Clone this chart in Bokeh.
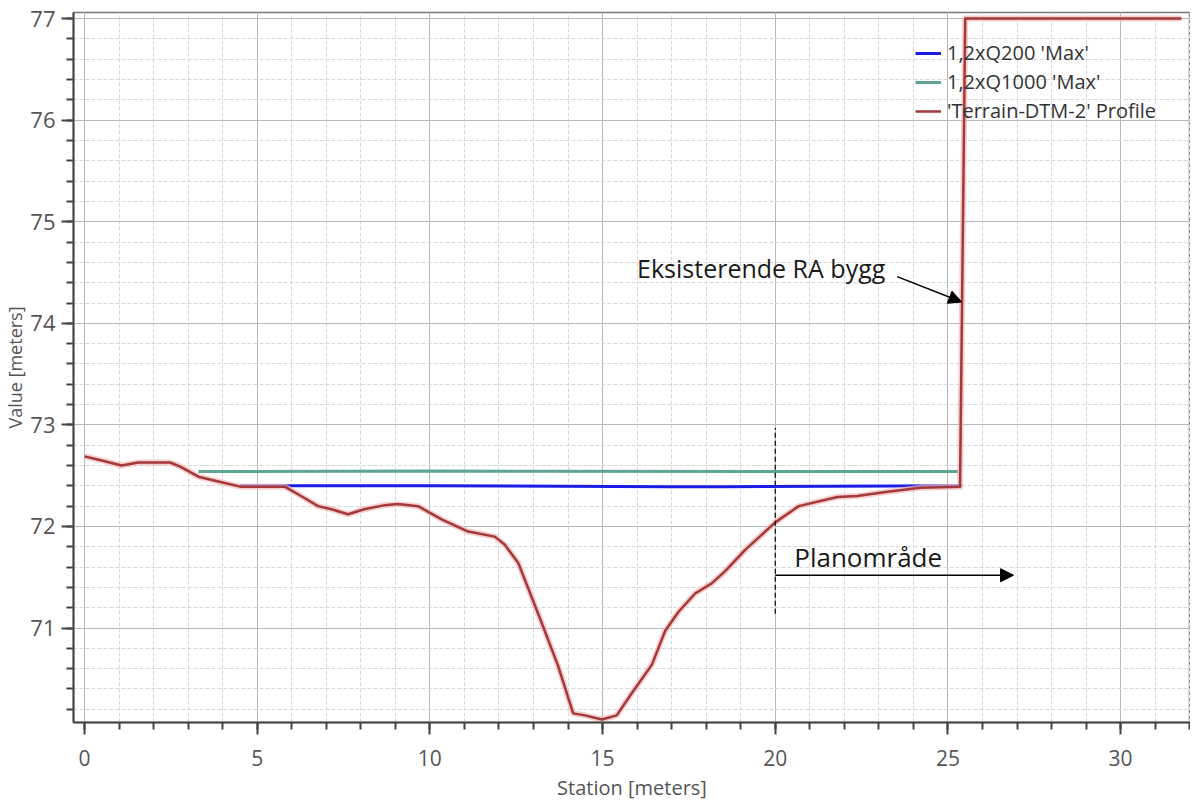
from bokeh.plotting import figure
from bokeh.models import (SingleIntervalTicker, Legend, LegendItem, Label, Arrow,
                          NormalHead, Range1d)
from bokeh.embed import file_html
from bokeh.resources import INLINE

# ---------------- data ----------------
terrain_x = [0.0, 0.5, 1.07, 1.56, 2.48, 2.77, 3.3, 3.78, 4.54, 4.83, 5.81, 6.27, 6.76,
             7.15, 7.63, 8.1, 8.7, 9.07, 9.66, 10.34, 11.11, 11.88, 12.17, 12.56, 13.24,
             13.72, 14.15, 14.49, 14.98, 15.41, 15.85, 16.43, 16.81, 17.2, 17.68, 18.16,
             18.55, 19.13, 20.0, 20.68, 21.8, 22.37, 23.2, 24.2, 25.35, 25.5, 31.76]
terrain_y = [72.69, 72.65, 72.60, 72.63, 72.63, 72.59, 72.49, 72.45, 72.39, 72.39, 72.39,
             72.30, 72.20, 72.17, 72.12, 72.17, 72.21, 72.22, 72.20, 72.07, 71.95, 71.90,
             71.82, 71.64, 71.05, 70.62, 70.16, 70.14, 70.10, 70.14, 70.36, 70.64, 70.97,
             71.16, 71.34, 71.44, 71.56, 71.77, 72.04, 72.20, 72.29, 72.30, 72.34, 72.38,
             72.39, 77.0, 77.0]

q200_x = [4.5, 10.0, 16.9, 18.55, 25.4]
q200_y = [72.40, 72.40, 72.392, 72.392, 72.40]

q1000_x = [3.3, 10.0, 20.0, 25.3]
q1000_y = [72.54, 72.545, 72.54, 72.54]

series_labels = ["1,2xQ200 'Max'", "1,2xQ1000 'Max'", "'Terrain-DTM-2' Profile"]

x_title = "Station [meters]"
y_title = "Value [meters]"

note_building = "Eksisterende RA bygg"
note_building_xy = (16.0, 74.54)
arrow_building = (23.53, 74.46, 25.4, 74.21)

note_plan = "Planområde"
note_plan_xy = (20.55, 71.70)
arrow_plan = (20.0, 71.52, 26.9, 71.52)
plan_line = (20.0, 71.14, 72.97)

# ---------------- figure ----------------
FONT = "Open Sans"
W, H = 1190, 803
BL, BR, BT, BB = 71, 0, 12, 78
x0 = -0.318
x1 = x0 + (W - BL - BR) / 34.6
p = figure(width=W, height=H, output_backend="svg", toolbar_location=None,
           x_range=Range1d(x0, x1), y_range=Range1d(70.07, 77.06))
p.min_border_left = BL
p.min_border_right = BR
p.min_border_top = BT
p.min_border_bottom = BB
p.background_fill_color = "white"
p.border_fill_color = "white"
p.outline_line_color = "#777777"
p.outline_line_width = 1.5

p.xaxis.ticker = SingleIntervalTicker(interval=5, num_minor_ticks=5)
p.yaxis.ticker = SingleIntervalTicker(interval=1, num_minor_ticks=5)

for ax in (p.xaxis[0], p.yaxis[0]):
    ax.axis_line_color = "#444444"
    ax.axis_line_width = 2
    ax.major_tick_line_color = "#444444"
    ax.major_tick_line_width = 2
    ax.minor_tick_line_color = "#444444"
    ax.minor_tick_line_width = 2
    ax.major_tick_out = 12
    ax.major_tick_in = 0
    ax.minor_tick_out = 7
    ax.minor_tick_in = 0
    ax.major_label_text_font = FONT
    ax.major_label_text_color = "#555555"
    ax.axis_label_text_font = FONT
    ax.axis_label_text_font_style = "normal"
    ax.axis_label_text_color = "#555555"

p.xaxis.major_label_text_font_size = "21px"
p.yaxis.major_label_text_font_size = "22px"
p.xaxis.axis_label = x_title
p.yaxis.axis_label = y_title
p.xaxis.axis_label_text_font_size = "20px"
p.yaxis.axis_label_text_font_size = "18px"
p.xaxis.major_label_standoff = 15
p.xaxis.axis_label_standoff = 5
p.yaxis.major_label_standoff = 6
p.yaxis.axis_label_standoff = 0

for g in (p.xgrid[0], p.ygrid[0]):
    g.grid_line_color = "#b8b8b8"
    g.grid_line_width = 1
    g.minor_grid_line_color = "#d8d8d8"
    g.minor_grid_line_width = 1
    g.minor_grid_line_dash = "4 2"

# ---------------- lines ----------------
r_q1000 = p.line(q1000_x, q1000_y, line_color="#5fa596", line_width=3)
r_q200 = p.line(q200_x, q200_y, line_color="#1c1ce6", line_width=3)
p.line(terrain_x, terrain_y, line_color="#f4b9b9", line_width=6, line_alpha=0.7,
       line_join="round")
r_ter = p.line(terrain_x, terrain_y, line_color="#a3393b", line_width=2.5,
               line_join="round")

legend = Legend(items=[LegendItem(label=series_labels[0], renderers=[r_q200]),
                       LegendItem(label=series_labels[1], renderers=[r_q1000]),
                       LegendItem(label=series_labels[2], renderers=[r_ter])],
                location=(842, 598))
legend.background_fill_alpha = 0
legend.border_line_alpha = 0
legend.padding = 0
legend.margin = 0
legend.spacing = 2
legend.glyph_width = 26
legend.glyph_height = 20
legend.label_height = 20
legend.label_standoff = 6
legend.label_text_font = FONT
legend.label_text_font_size = "20px"
legend.label_text_color = "#333333"
p.add_layout(legend)

# ---------------- annotations ----------------
p.segment(x0=[plan_line[0]], y0=[plan_line[1]], x1=[plan_line[0]], y1=[plan_line[2]],
          line_color="black", line_width=1.2, line_dash="5 3")

p.add_layout(Arrow(end=NormalHead(size=13, fill_color="black", line_color="black"),
                   x_start=arrow_building[0], y_start=arrow_building[1],
                   x_end=arrow_building[2], y_end=arrow_building[3],
                   line_color="black", line_width=1.5))
p.add_layout(Arrow(end=NormalHead(size=13, fill_color="black", line_color="black"),
                   x_start=arrow_plan[0], y_start=arrow_plan[1],
                   x_end=arrow_plan[2], y_end=arrow_plan[3],
                   line_color="black", line_width=1.5))

p.add_layout(Label(x=note_building_xy[0], y=note_building_xy[1], text=note_building,
                   text_font=FONT, text_font_size="25px", text_color="#1a1a1a",
                   text_baseline="middle", text_align="left"))
p.add_layout(Label(x=note_plan_xy[0], y=note_plan_xy[1], text=note_plan,
                   text_font=FONT, text_font_size="26px", text_color="#1a1a1a",
                   text_baseline="middle", text_align="left"))

open("out.html", "w").write(file_html(p, INLINE))
